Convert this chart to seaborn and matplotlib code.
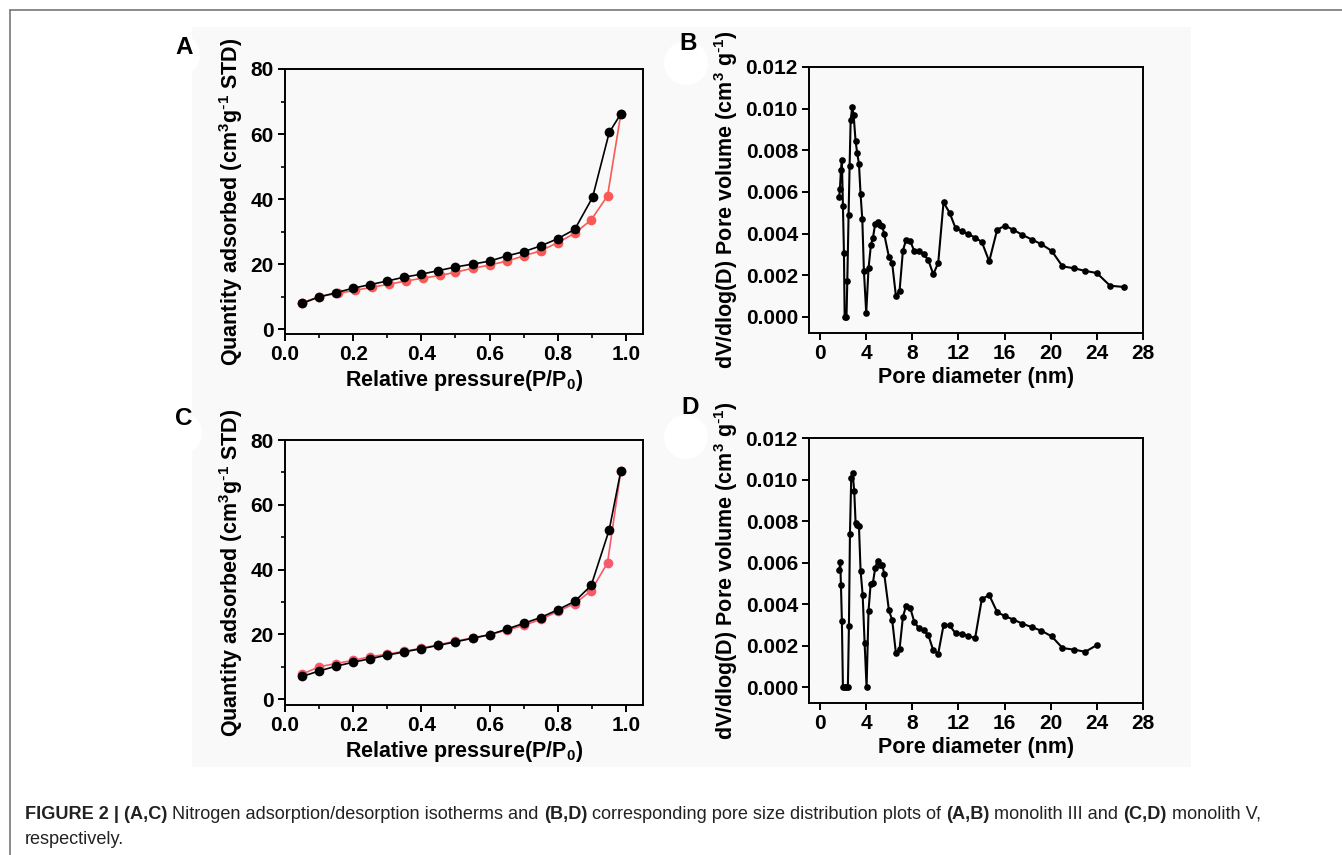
import numpy as np
import pandas as pd
import matplotlib
matplotlib.use("Agg")
import matplotlib.pyplot as plt
import seaborn as sns
from matplotlib.patches import Rectangle, Circle
from matplotlib.lines import Line2D
from matplotlib.ticker import MultipleLocator

# ---- panel A: monolith III isotherm ----
a_ads_p = [0.05, 0.10, 0.155, 0.205, 0.255, 0.305, 0.355, 0.405, 0.455, 0.50,
           0.55, 0.60, 0.65, 0.70, 0.75, 0.80, 0.85, 0.898, 0.946, 0.985]
a_ads_q = [8.1, 10.0, 11.0, 11.9, 12.9, 13.8, 14.8, 15.7, 16.5, 17.5,
           18.7, 19.7, 20.9, 22.5, 24.1, 26.6, 29.5, 33.6, 41.0, 66.2]
a_des_p = [0.05, 0.10, 0.15, 0.20, 0.25, 0.30, 0.35, 0.40, 0.45, 0.50,
           0.55, 0.60, 0.65, 0.70, 0.75, 0.80, 0.85, 0.902, 0.951, 0.985]
a_des_q = [7.9, 9.9, 11.2, 12.6, 13.7, 14.8, 16.0, 16.9, 18.0, 19.1,
           20.0, 20.9, 22.5, 23.8, 25.6, 27.8, 30.7, 40.5, 60.5, 66.2]

# ---- panel C: monolith V isotherm ----
c_ads_p = [0.05, 0.10, 0.15, 0.20, 0.25, 0.30, 0.35, 0.40, 0.45, 0.50,
           0.55, 0.60, 0.65, 0.70, 0.75, 0.80, 0.85, 0.898, 0.946, 0.985]
c_ads_q = [7.7, 10.0, 11.0, 12.0, 13.1, 13.9, 14.8, 15.7, 16.8, 17.9,
           18.9, 19.9, 21.3, 22.8, 24.6, 27.1, 29.5, 33.5, 42.1, 70.5]
c_des_p = [0.05, 0.10, 0.15, 0.20, 0.25, 0.30, 0.35, 0.40, 0.45, 0.50,
           0.55, 0.60, 0.65, 0.70, 0.75, 0.80, 0.85, 0.898, 0.951, 0.985]
c_des_q = [7.0, 8.7, 10.2, 11.4, 12.5, 13.6, 14.6, 15.6, 16.6, 17.7,
           18.8, 19.9, 21.6, 23.4, 25.2, 27.6, 30.2, 35.1, 52.3, 70.5]

# ---- panel B: monolith III pore size distribution ----
b_d = [1.67, 1.73, 1.82, 1.90, 1.99, 2.08, 2.14, 2.30, 2.37, 2.48,
       2.57, 2.66, 2.80, 2.92, 3.09, 3.23, 3.38, 3.52, 3.67, 3.81,
       4.01, 4.21, 4.42, 4.59, 4.79, 4.99, 5.20, 5.40, 5.57, 5.98,
       6.26, 6.58, 6.90, 7.19, 7.45, 7.82, 8.17, 8.55, 8.98, 9.38,
       9.82, 10.25, 10.71, 11.23, 11.75, 12.27, 12.85, 13.45, 14.03, 14.67,
       15.36, 16.05, 16.77, 17.55, 18.39, 19.20, 20.09, 21.02, 22.00, 23.00,
       24.00, 25.14, 26.33]
b_v = [5.76, 6.16, 7.07, 7.52, 5.34, 3.07, 0.00, 0.00, 1.73, 4.88,
       7.26, 9.44, 10.08, 9.68, 8.43, 7.86, 7.36, 5.89, 4.69, 2.21,
       0.19, 2.34, 3.47, 3.79, 4.48, 4.58, 4.43, 4.38, 3.97, 2.88,
       2.58, 1.02, 1.25, 3.18, 3.68, 3.65, 3.17, 3.15, 3.01, 2.75,
       2.05, 2.59, 5.50, 5.01, 4.27, 4.14, 3.98, 3.81, 3.60, 2.67,
       4.19, 4.38, 4.18, 3.94, 3.71, 3.49, 3.17, 2.43, 2.34, 2.21,
       2.11, 1.50, 1.44]

# ---- panel D: monolith V pore size distribution ----
d_d = [1.67, 1.76, 1.82, 1.90, 1.99, 2.14, 2.28, 2.42, 2.51, 2.60,
       2.71, 2.83, 2.97, 3.09, 3.23, 3.38, 3.52, 3.70, 3.87, 4.04,
       4.21, 4.39, 4.59, 4.79, 4.99, 5.20, 5.40, 5.57, 5.98, 6.26,
       6.58, 6.90, 7.19, 7.45, 7.82, 8.17, 8.55, 8.98, 9.38, 9.82,
       10.25, 10.71, 11.23, 11.75, 12.27, 12.85, 13.45, 14.03, 14.67, 15.36,
       16.05, 16.77, 17.55, 18.39, 19.20, 20.09, 21.02, 22.00, 23.00, 24.00]
d_v = [5.62, 6.01, 4.90, 3.18, 0.00, 0.00, 0.00, 0.00, 2.92, 7.39,
       10.09, 10.31, 9.45, 7.90, 7.79, 7.76, 5.61, 4.45, 2.12, 0.00,
       3.68, 4.95, 5.03, 5.73, 6.09, 5.90, 5.90, 5.45, 3.69, 3.23,
       1.65, 1.83, 3.37, 3.89, 3.82, 3.15, 2.84, 2.73, 2.52, 1.77,
       1.61, 2.97, 2.97, 2.59, 2.57, 2.46, 2.36, 4.24, 4.43, 3.61,
       3.41, 3.25, 3.05, 2.88, 2.71, 2.44, 1.88, 1.80, 1.70, 2.02]

sns.set_style("ticks")
plt.rcParams['font.family'] = ['Liberation Sans', 'DejaVu Sans']
plt.rcParams['mathtext.default'] = 'regular'
plt.rcParams['axes.linewidth'] = 1.4
plt.rcParams['text.color'] = 'black'
plt.rcParams['axes.labelcolor'] = 'black'
plt.rcParams['xtick.color'] = 'black'
plt.rcParams['ytick.color'] = 'black'

W, H = 1342, 855
fig = plt.figure(figsize=(W / 100, H / 100), dpi=100)
bg = '#f9f9f9'


def fbox(l, t, r, b):
    return [l / W, 1 - b / H, (r - l) / W, (b - t) / H]


# page decoration: frame lines, grey panel area, white blobs
fig.add_artist(Line2D([10 / W, 1], [1 - 10 / H, 1 - 10 / H], color='#777777', lw=1.2))
fig.add_artist(Line2D([10 / W, 10 / W], [0, 1 - 10 / H], color='#777777', lw=1.2))
fig.patches.append(Rectangle((192 / W, 1 - 767 / H), (1191 - 192) / W, (767 - 27) / H,
                             transform=fig.transFigure, facecolor=bg, edgecolor='none',
                             zorder=-2))
for cx, cy in [(178, 55), (686, 63), (180, 433), (686, 437)]:
    fig.patches.append(Circle((cx, H - cy), 22, transform=None, facecolor='white',
                              edgecolor='none', zorder=-1))

ax_a = fig.add_axes(fbox(285, 69, 643, 334))
ax_b = fig.add_axes(fbox(809, 67, 1143, 333))
ax_c = fig.add_axes(fbox(285, 440, 643, 705))
ax_d = fig.add_axes(fbox(809, 438, 1143, 703))

tick_fs = 15
lab_fs = 15.5
minus1 = r'$^{\text{-}1}$'


def iso_panel(ax, ads_p, ads_q, des_p, des_q, red, ymin):
    ads = pd.DataFrame({'p': ads_p, 'q': ads_q})
    des = pd.DataFrame({'p': des_p, 'q': des_q})
    sns.lineplot(data=ads, x='p', y='q', ax=ax, color=red, marker='o', markersize=7,
                 markeredgewidth=0, linewidth=1.2, estimator=None, sort=False)
    sns.lineplot(data=des, x='p', y='q', ax=ax, color='black', marker='o', markersize=7,
                 markeredgewidth=0, linewidth=1.2, estimator=None, sort=False)
    ax.set_xlim(0, 1.05)
    ax.set_ylim(ymin, 80)
    ax.xaxis.set_minor_locator(MultipleLocator(0.1))
    ax.yaxis.set_major_locator(MultipleLocator(20))
    ax.yaxis.set_minor_locator(MultipleLocator(10))
    ax.set_xticks([0, 0.2, 0.4, 0.6, 0.8, 1.0])
    ax.set_xticklabels(['0.0', '0.2', '0.4', '0.6', '0.8', '1.0'])
    ax.set_xlabel('Relative pressure(P/P$_0$)', fontsize=lab_fs, fontweight='bold', labelpad=3)
    ax.set_ylabel('Quantity adsorbed (cm$^3$g' + minus1 + ' STD)', fontsize=lab_fs,
                  fontweight='bold', labelpad=4)


def psd_panel(ax, d, v):
    df = pd.DataFrame({'d': d, 'v': np.array(v) / 1000})
    sns.lineplot(data=df, x='d', y='v', ax=ax, color='black', marker='o', markersize=4.8,
                 markeredgewidth=0, linewidth=1.5, estimator=None, sort=False)
    ax.set_xlim(-0.95, 28)
    ax.set_ylim(-0.00077, 0.012)
    ax.set_xticks(range(0, 29, 4))
    ax.set_yticks([0, 0.002, 0.004, 0.006, 0.008, 0.010, 0.012])
    ax.set_yticklabels(['0.000', '0.002', '0.004', '0.006', '0.008', '0.010', '0.012'])
    ax.set_xlabel('Pore diameter (nm)', fontsize=lab_fs, fontweight='bold', labelpad=3)
    ax.set_ylabel('dV/dlog(D) Pore volume (cm$^3$ g' + minus1 + ')', fontsize=lab_fs,
                  fontweight='bold', labelpad=4)


iso_panel(ax_a, a_ads_p, a_ads_q, a_des_p, a_des_q, '#fa5a55', -1.5)
iso_panel(ax_c, c_ads_p, c_ads_q, c_des_p, c_des_q, '#f75a6c', -1.8)
psd_panel(ax_b, b_d, b_v)
psd_panel(ax_d, d_d, d_v)

for ax in [ax_a, ax_b, ax_c, ax_d]:
    ax.set_facecolor(bg)
    for s in ax.spines.values():
        s.set_visible(True)
        s.set_color('black')
    ax.tick_params(which='major', direction='out', length=5, width=1.4,
                   labelsize=tick_fs, pad=3)
    ax.tick_params(which='minor', direction='out', length=3, width=1.2)
    for lbl in ax.get_xticklabels() + ax.get_yticklabels():
        lbl.set_fontweight('bold')

for letter, x, y in [('A', 184, 47), ('B', 688, 43), ('C', 184, 418), ('D', 690, 408)]:
    fig.text(x / W, 1 - y / H, letter, fontsize=17.5, fontweight='bold', ha='center', va='center')

# caption with mixed weights
cap_fs = 13.1
renderer = fig.canvas.get_renderer()
probe1 = fig.text(0, 0, 'a a', fontsize=cap_fs)
probe2 = fig.text(0, 0, 'aa', fontsize=cap_fs)
space_w = (probe1.get_window_extent(renderer).width - probe2.get_window_extent(renderer).width)
probe1.remove()
probe2.remove()

pieces = [('FIGURE 2 | (A,C)', 'bold'), ('Nitrogen adsorption/desorption isotherms and', 'normal'),
          ('(B,D)', 'bold'), ('corresponding pore size distribution plots of', 'normal'),
          ('(A,B)', 'bold'), ('monolith III and', 'normal'), ('(C,D)', 'bold'),
          ('monolith V,', 'normal')]
xpix = 25
for txt, wt in pieces:
    t = fig.text(xpix / W, 1 - 814 / H, txt, fontsize=cap_fs, fontweight=wt,
                 color='#222222', va='center', ha='left')
    xpix += t.get_window_extent(renderer).width + space_w
fig.text(25 / W, 1 - 839 / H, 'respectively.', fontsize=cap_fs, color='#222222',
         va='center', ha='left')

fig.savefig('out.png', dpi=100, facecolor='white')
